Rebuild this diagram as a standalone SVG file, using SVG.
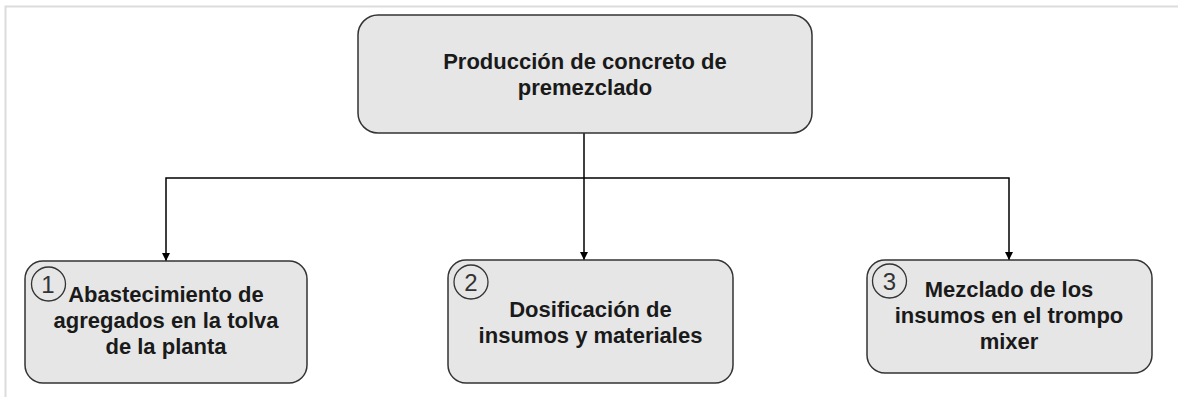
<svg xmlns="http://www.w3.org/2000/svg" width="1178" height="397" viewBox="0 0 1178 397">
<style>
.box{fill:#e6e6e6;stroke:#333;stroke-width:1.5}
.t{font-family:"Liberation Sans",Arial,sans-serif;font-weight:bold;font-size:22px;fill:#1a1a1a;text-anchor:middle}
.num{fill:none;stroke:#333;stroke-width:1.3}
.nt{font-family:"Liberation Sans",Arial,sans-serif;font-size:24px;fill:#333;text-anchor:middle}
.c{fill:none;stroke:#000;stroke-width:1.5}
</style>
<defs>
<marker id="arr" viewBox="0 0 8 8" refX="8" refY="4" markerWidth="8" markerHeight="8" markerUnits="userSpaceOnUse" orient="auto">
<path d="M0,0 L8,4 L0,8 Z" fill="#000"/>
</marker>
</defs>
<rect width="1178" height="397" fill="#fff"/>
<path d="M5.5,397 V6.5 H1178" fill="none" stroke="#dcdcdc" stroke-width="2"/>
<g id="connectors">
<path class="c" d="M584,133 V260" marker-end="url(#arr)"/>
<path class="c" d="M584,178 H166 V261" marker-end="url(#arr)"/>
<path class="c" d="M584,178 H1009 V260" marker-end="url(#arr)"/>
</g>
<g id="root">
<rect class="box" x="358" y="15" width="454" height="118" rx="20"/>
<text class="t" x="585" y="69">Producción de concreto de</text>
<text class="t" x="585" y="95">premezclado</text>
</g>
<g id="step1">
<rect class="box" x="25" y="261" width="282" height="122" rx="18"/>
<circle class="num" cx="48.5" cy="284" r="17"/>
<text class="nt" x="48" y="293">1</text>
<text class="t" x="166" y="302">Abastecimiento de</text>
<text class="t" x="166" y="328">agregados en la tolva</text>
<text class="t" x="166" y="354">de la planta</text>
</g>
<g id="step2">
<rect class="box" x="448" y="260" width="285" height="123" rx="18"/>
<circle class="num" cx="471" cy="282" r="17"/>
<text class="nt" x="471" y="291">2</text>
<text class="t" x="590.5" y="317">Dosificación de</text>
<text class="t" x="590.5" y="343">insumos y materiales</text>
</g>
<g id="step3">
<rect class="box" x="867" y="260" width="285" height="113" rx="18"/>
<circle class="num" cx="889.5" cy="281" r="17"/>
<text class="nt" x="889.5" y="290">3</text>
<text class="t" x="1009" y="297">Mezclado de los</text>
<text class="t" x="1009" y="323">insumos en el trompo</text>
<text class="t" x="1009" y="349">mixer</text>
</g>
</svg>
